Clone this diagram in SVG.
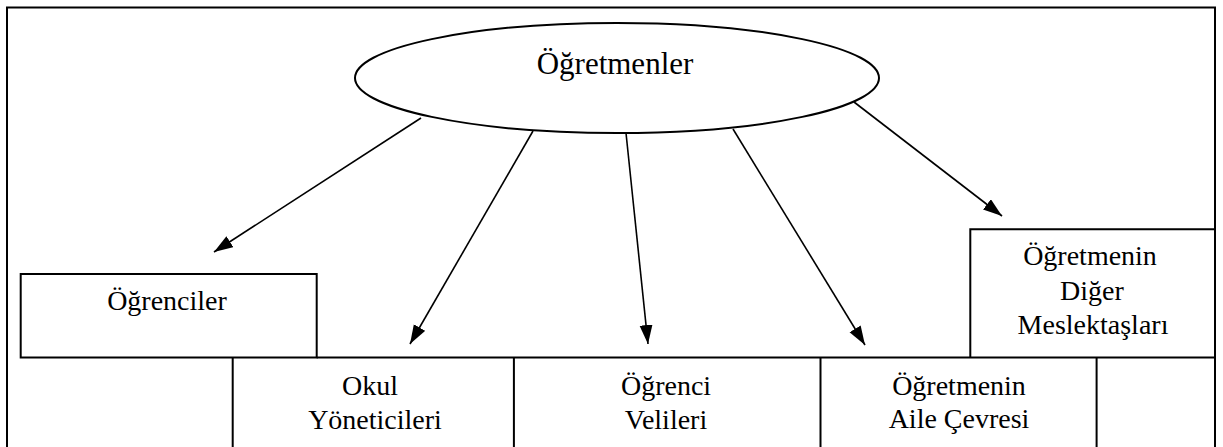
<svg xmlns="http://www.w3.org/2000/svg" width="1223" height="447" viewBox="0 0 1223 447">
<style>
  .frame{fill:none;stroke:#000;stroke-width:2}
  .box{fill:#fff;stroke:#000;stroke-width:2}
  .conn{stroke:#000;stroke-width:1.6;fill:none;marker-end:url(#ah)}
  text{font-family:"Liberation Serif","Times New Roman",serif;font-size:28px;fill:#000;text-anchor:middle}
</style>
<defs>
  <marker id="ah" markerUnits="userSpaceOnUse" markerWidth="20" markerHeight="14" refX="19" refY="6.5" orient="auto">
    <path d="M0,0 L19,6.5 L0,13 z" fill="#000"/>
  </marker>
</defs>
<rect width="1223" height="447" fill="#fff"/>
<path class="frame" d="M7,447 V7.5 H1215 V447"/>
<g id="node-ogretmenler">
  <ellipse cx="617" cy="78" rx="262" ry="55" fill="#fff" stroke="#000" stroke-width="2"/>
  <text x="615" y="74" style="font-size:31px">Öğretmenler</text>
</g>
<g id="node-ogrenciler">
  <rect class="box" x="20.7" y="274" width="296" height="83.5"/>
  <text x="167" y="310">Öğrenciler</text>
</g>
<g id="node-okul">
  <path class="frame" d="M232.7,357.5 V447 M513.9,357.5 V447"/>
  <text x="370" y="395">Okul</text>
  <text x="375" y="429">Yöneticileri</text>
</g>
<g id="node-veliler">
  <path class="frame" d="M820.5,357.5 V447"/>
  <text x="666" y="395">Öğrenci</text>
  <text x="666" y="429">Velileri</text>
</g>
<g id="node-aile">
  <path class="frame" d="M1096.6,357.5 V447"/>
  <text x="959" y="395">Öğretmenin</text>
  <text x="959" y="428">Aile Çevresi</text>
</g>
<g id="node-meslektas">
  <path class="frame" d="M970.3,357.5 V229.3 H1215"/>
  <text x="1090" y="265">Öğretmenin</text>
  <text x="1092" y="300">Diğer</text>
  <text x="1093" y="334">Meslektaşları</text>
</g>
<path class="frame" d="M316.7,357.5 H1215"/>
<g id="connectors">
  <line class="conn" x1="421" y1="118" x2="214" y2="252"/>
  <line class="conn" x1="533" y1="131" x2="410" y2="344"/>
  <line class="conn" x1="626" y1="133" x2="648" y2="344"/>
  <line class="conn" x1="733" y1="129" x2="865" y2="345"/>
  <line class="conn" x1="854" y1="102" x2="1002" y2="216"/>
</g>
</svg>
